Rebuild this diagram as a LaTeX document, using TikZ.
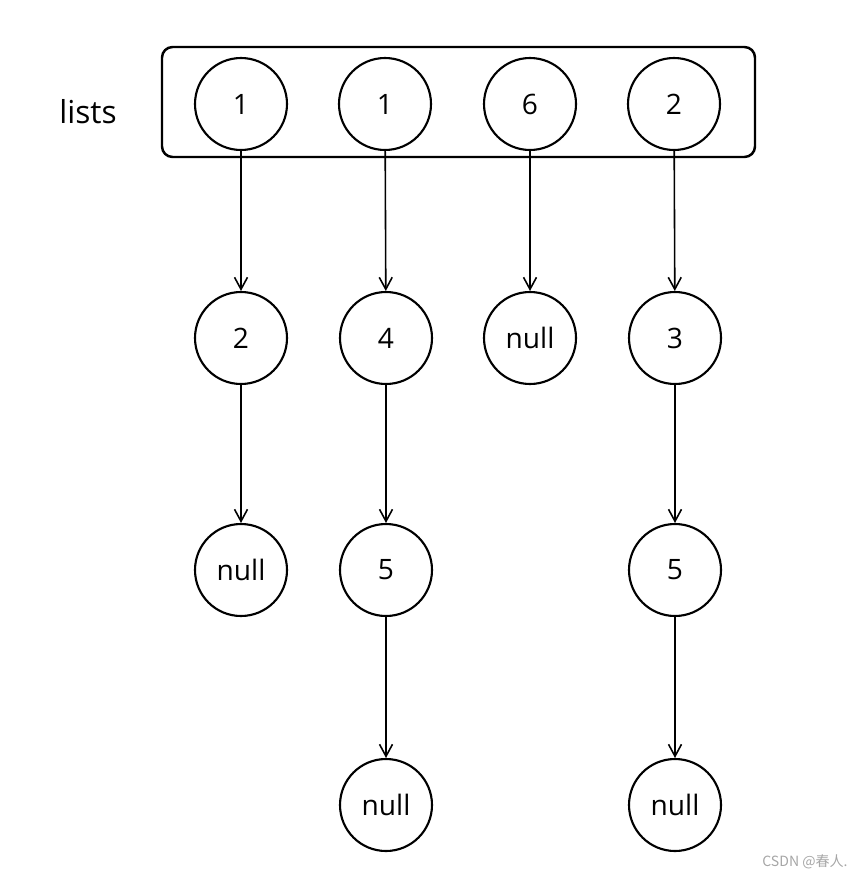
\documentclass[tikz,border=0pt]{standalone}
\usepackage{fontspec}
\setmainfont{Open Sans}
\newfontfamily\cjkfont{Noto Sans CJK SC}
\usepackage{tikz}
\usetikzlibrary{arrows.meta,positioning,calc}
\tikzset{
  nodo/.style={circle, draw=black, line width=1.2pt, minimum size=1.84cm,
               inner sep=0pt, font=\fontsize{16}{18}\selectfont},
  contenedor/.style={rectangle, draw=black, line width=1.4pt, rounded corners=6pt},
  flecha/.style={-{Straight Barb[length=2.4mm, width=2.6mm]}, line width=0.9pt},
  marca/.style={text=gray!70, font=\cjkfont\fontsize{8}{9}\selectfont}
}
\begin{document}
\begin{tikzpicture}
  \useasboundingbox (0,0) rectangle (17.16,-17.58);
  % --- Arreglo lists ---
  \draw[contenedor] (3.24,-0.94) rectangle (15.10,-3.14);
  \node[font=\fontsize{18}{20}\selectfont] (lbl) at (1.76,-2.24) {lists};
  \node[nodo] (A0) at (4.82,-2.08)  {1};
  \node[nodo] (B0) at (7.70,-2.08)  {1};
  \node[nodo] (C0) at (10.60,-2.08) {6};
  \node[nodo] (D0) at (13.48,-2.08) {2};

  % --- Listas enlazadas ---
  \node[nodo] (A1) at (4.82,-6.76)  {2};
  \node[nodo] (B1) at (7.72,-6.76)  {4};
  \node[nodo] (C1) at (10.60,-6.76) {null};
  \node[nodo] (D1) at (13.50,-6.76) {3};
  \node[nodo] (A2) at (4.82,-11.40) {null};
  \node[nodo] (B2) at (7.72,-11.40) {5};
  \node[nodo] (D2) at (13.50,-11.40) {5};
  \node[nodo] (B3) at (7.72,-16.10) {null};
  \node[nodo] (D3) at (13.50,-16.10) {null};

  \foreach \a/\b in {A0/A1,B0/B1,C0/C1,D0/D1,A1/A2,B1/B2,D1/D2,B2/B3,D2/D3}
    \draw[flecha] (\a) -- (\b);

  \node[marca] (wm) at (16.10,-17.24) {CSDN @春人.};
\end{tikzpicture}
\end{document}
